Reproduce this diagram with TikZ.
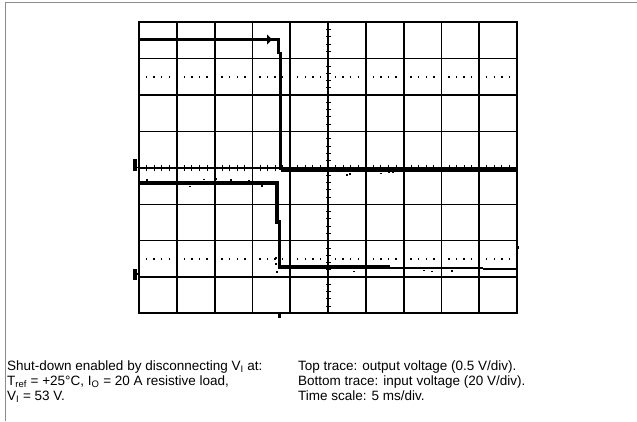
\documentclass[tikz,border=0pt]{standalone}
\usepackage{fontspec}
\setmainfont{Liberation Sans}

\begin{document}
\begin{tikzpicture}[x=1pt, y=-1pt,
        frameline/.style={draw=black!45, line width=1pt},
        gridline/.style={line width=1.8pt},
        hline/.style={line width=1.4pt},
        tickmark/.style={line width=0.9pt},
        trace/.style={line width=2.6pt, line join=miter},
        caption/.style={anchor=base west, inner sep=0pt, font=\fontsize{13.5}{15.3}\selectfont}]
    \useasboundingbox (0,0) rectangle (637,421);
    % open frame
    \draw[frameline] (5,421) -- (5,2.5) -- (637,2.5);
    % scope graticule
    \foreach \i in {0,...,10}
        \draw[gridline] ({139+37.8*\i},22.3) -- ({139+37.8*\i},313.3);
    \foreach \j in {1,...,7}
        \draw[hline] (139,{22.3+36.4*\j}) -- (517,{22.3+36.4*\j});
    \draw[line width=2.2pt] (138,22.3) -- (518,22.3);
    \draw[line width=2.2pt] (138,313.3) -- (518,313.3);
    % minor ticks on the centre lines, dotted rows
    \foreach \i in {0,...,9}
        \foreach \k in {1,...,4} {
            \draw[tickmark] ({139+37.8*(\i+\k/5)},164.8) -- ({139+37.8*(\i+\k/5)},171);
            \fill ({139+37.8*(\i+\k/5)-0.7},76.2) rectangle ++(1.4,1.4);
            \fill ({139+37.8*(\i+\k/5)-0.7},258.2) rectangle ++(1.4,1.4);
        }
    \foreach \j in {0,...,7}
        \foreach \k in {1,...,4}
            \draw[tickmark] (326.2,{22.3+36.4*(\j+\k/5)}) -- (331.2,{22.3+36.4*(\j+\k/5)});
    % channel and trigger markers
    \fill (132.5,158.5) rectangle (136.5,171);
    \draw[line width=1.2pt] (136.5,167.8) -- (140,167.8);
    \fill (132.5,268.5) rectangle (136.5,280);
    \draw[line width=1.2pt] (136.5,274) -- (140,274);
    \fill (277.5,313.3) rectangle (280.5,317.5);
    \fill (515.5,245.5) rectangle (518.5,248.5);
    % top trace: output voltage
    \draw[trace, line width=2.4pt] (139,39.5) -- (278.5,39.5) -- (278.5,53) -- (280.5,53) -- (280.5,170);
    \draw[trace, line width=3.3pt] (280.5,170) -- (517,170);
    \fill (267,34.5) -- (272,39.5) -- (267,44.5) -- cycle;
    % bottom trace: input voltage
    \draw[trace, line width=3.8pt] (139,183) -- (277,183) -- (277,222) -- (279.5,222) -- (279.5,267) -- (390,267);
    \draw[line width=2.2pt] (390,268) -- (483,268);
    \draw[line width=1.1pt] (483,269) -- (517,269);
    % noise
    \foreach \px/\py in {147/180, 190/186.5, 204/179.5, 216/179, 231/180, 249/180.5, 262/186,
                         347/175, 350/174, 381/173.5, 389/172, 393/172,
                         276/258, 276/264, 277/272, 354/271.5, 424/270.5, 432/271.5, 452/271}
        \fill (\px-0.8,\py-0.8) rectangle ++(1.6,1.6);
    % caption
    \node[caption] (shut) at (7,370) {Shut-down enabled by disconnecting V\textsubscript{I} at:};
    \node[caption] (cond) at (7,385.3) {T\textsubscript{ref} = +25°C, I\textsubscript{O} = 20 A resistive load,};
    \node[caption] (vin) at (7,400.6) {V\textsubscript{I} = 53 V.};
    \node[caption] (toptr) at (298,370) {Top trace: output voltage (0.5 V/div).};
    \node[caption] (bottr) at (298,385.3) {Bottom trace: input voltage (20 V/div).};
    \node[caption] (tscale) at (298,400.6) {Time scale: 5 ms/div.};
\end{tikzpicture}
\end{document}
